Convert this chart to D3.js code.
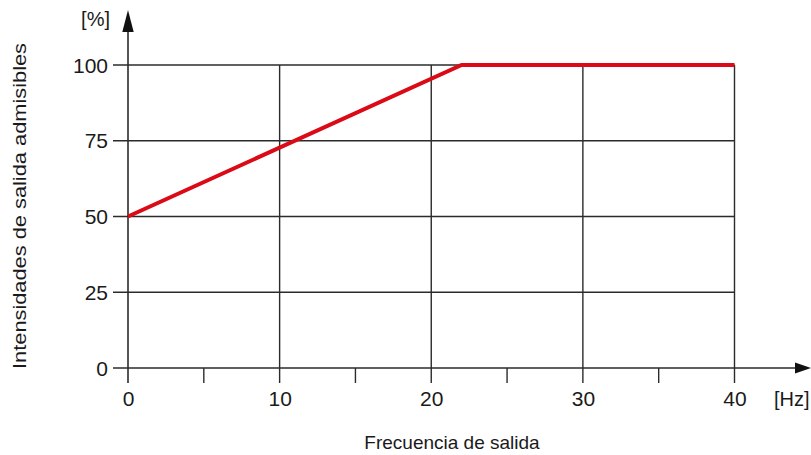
<!DOCTYPE html>
<html>
<head>
<meta charset="utf-8">
<script src="https://cdn.jsdelivr.net/npm/d3@7"></script>
<style>
  html, body { margin: 0; padding: 0; background: #fff; }
  svg { display: block; }
  text { font-family: "Liberation Sans", Arial, sans-serif; fill: #1a1a1a; }
</style>
</head>
<body>
<svg id="chart" width="811" height="455"></svg>
<script>
// Derating curve: permissible output current vs. output frequency
const freqHz = [0, 22, 40];
const currentPct = [50, 100, 100];

const xMajorTicks = [0, 10, 20, 30, 40];
const xMinorTicks = [5, 15, 25, 35];
const yTicks = [0, 25, 50, 75, 100];

const xUnit = "[Hz]";
const yUnit = "[%]";
const xTitle = "Frecuencia de salida";
const yTitle = "Intensidades de salida admisibles";

const svg = d3.select("#chart");

const x = d3.scaleLinear().domain([0, 40]).range([128, 734.5]);
const y = d3.scaleLinear().domain([0, 100]).range([368, 65]);

const ink = "#2b2b2b";
const tickLen = 15;

// Horizontal grid lines (extend left past the axis as ticks)
svg.append("g").selectAll("line").data(yTicks.filter(d => d > 0)).join("line")
  .attr("x1", x(0) - tickLen).attr("x2", x(40))
  .attr("y1", d => y(d)).attr("y2", d => y(d))
  .attr("stroke", ink).attr("stroke-width", 1.4);

// Vertical grid lines (extend below the axis as ticks)
svg.append("g").selectAll("line").data(xMajorTicks.filter(d => d > 0)).join("line")
  .attr("x1", d => x(d)).attr("x2", d => x(d))
  .attr("y1", y(100)).attr("y2", y(0) + tickLen)
  .attr("stroke", ink).attr("stroke-width", 1.4);

// Minor ticks on the frequency axis
svg.append("g").selectAll("line").data(xMinorTicks).join("line")
  .attr("x1", d => x(d)).attr("x2", d => x(d))
  .attr("y1", y(0)).attr("y2", y(0) + tickLen)
  .attr("stroke", ink).attr("stroke-width", 1.4);

// X axis with arrow
svg.append("line")
  .attr("x1", x(0) - tickLen).attr("x2", 797)
  .attr("y1", y(0)).attr("y2", y(0))
  .attr("stroke", ink).attr("stroke-width", 1.6);
svg.append("path")
  .attr("d", `M811,${y(0)} L795,${y(0) - 5.5} L795,${y(0) + 5.5} Z`)
  .attr("fill", "#111");

// Y axis with arrow
svg.append("line")
  .attr("x1", x(0)).attr("x2", x(0))
  .attr("y1", y(0) + tickLen).attr("y2", 30)
  .attr("stroke", ink).attr("stroke-width", 1.6);
svg.append("path")
  .attr("d", `M${x(0)},10 L${x(0) - 5.7},32 L${x(0) + 5.7},32 Z`)
  .attr("fill", "#111");

// Tick labels via d3 axes (lines drawn above)
const xAxis = svg.append("g")
  .attr("transform", `translate(0,${y(0)})`)
  .call(d3.axisBottom(x).tickValues(xMajorTicks).tickSize(0));
const yAxis = svg.append("g")
  .attr("transform", `translate(${x(0)},0)`)
  .call(d3.axisLeft(y).tickValues(yTicks).tickSize(0).tickPadding(20));
[xAxis, yAxis].forEach(g => {
  g.select(".domain").remove();
  g.selectAll("text")
    .attr("font-family", "'Liberation Sans', Arial, sans-serif")
    .attr("font-size", 21).attr("fill", "#1a1a1a");
});
xAxis.selectAll("text").attr("dy", null).attr("y", 38);
yAxis.selectAll("text").attr("dy", "0.34em");

// Units
svg.append("text").attr("x", 774).attr("y", 406)
  .attr("font-size", 20).text(xUnit);
svg.append("text").attr("x", 110).attr("y", 26)
  .attr("text-anchor", "end").attr("font-size", 20).text(yUnit);

// Axis titles
svg.append("text").attr("x", 452).attr("y", 449)
  .attr("text-anchor", "middle").attr("font-size", 19).text(xTitle);
svg.append("text")
  .attr("transform", `translate(26,206) rotate(-90)`)
  .attr("text-anchor", "middle").attr("font-size", 19)
  .attr("textLength", 326).attr("lengthAdjust", "spacingAndGlyphs")
  .text(yTitle);

// Derating curve
const pts = freqHz.map((f, i) => [f, currentPct[i]]);
svg.append("path")
  .datum(pts)
  .attr("d", d3.line().x(d => x(d[0])).y(d => y(d[1])))
  .attr("fill", "none")
  .attr("stroke", "#da0a16")
  .attr("stroke-width", 4)
  .attr("stroke-linejoin", "miter");
</script>
</body>
</html>
